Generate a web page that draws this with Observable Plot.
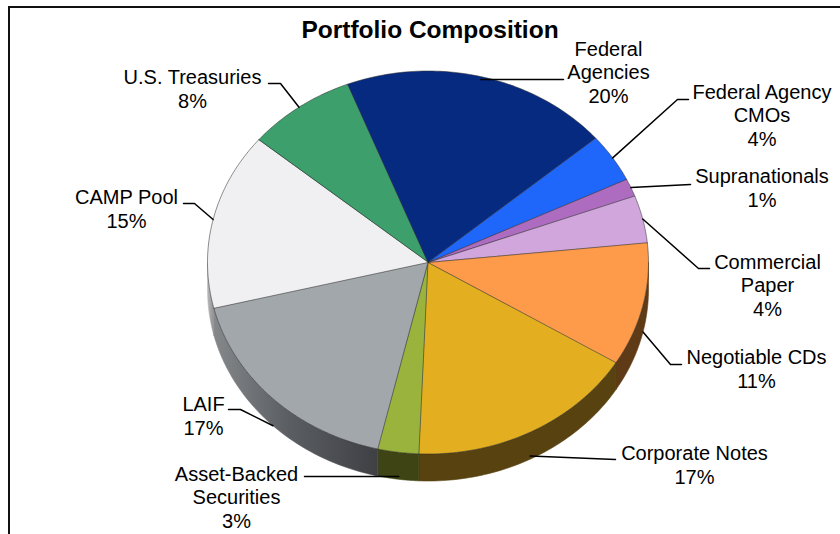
<!DOCTYPE html>
<html><head><meta charset="utf-8">
<script src="https://cdn.jsdelivr.net/npm/d3@7"></script>
<script src="https://cdn.jsdelivr.net/npm/@observablehq/plot@0.6"></script>
<style>html,body{margin:0;padding:0;background:#fff}svg{display:block}</style>
</head><body><div id="chart"></div>
<script>
const categories = ["U.S. Treasuries","Federal Agencies","Federal Agency CMOs","Supranationals","Commercial Paper","Negotiable CDs","Corporate Notes","Asset-Backed Securities","LAIF","CAMP Pool"];
const shares = [8.0,19.7,4.1,1.5,4.0,10.4,16.9,3.0,17.5,14.9];
const labelText = ["U.S. Treasuries\n8%","Federal\nAgencies\n20%","Federal Agency\nCMOs\n4%","Supranationals\n1%","Commercial\nPaper\n4%","Negotiable CDs\n11%","Corporate Notes\n17%","Asset-Backed\nSecurities\n3%","LAIF\n17%","CAMP Pool\n15%"];
const topColors = ["#3da06c","#062a80","#1f66fb","#ad6cc0","#d0a6dc","#fd9b4b","#e3ae20","#9ab33c","#a2a7ab","#f0f0f2"];
const sideColors = ["#1f5036","#031540","#0f337e","#573660","#68536e","#5f3a17","#574210","#3e4414","url(#sideLaif)","url(#sideCamp)"];
// layout: label centre, elbow and leader end in chart pixels
const labelX = [192,608,761.5,761.5,767,756,694,236,203,126];
const labelY = [88,71,114,187,284,368,464,496,415,208];
const elbowX = [280,null,677,null,698,670,null,null,240,194];
const elbowY = [83,null,99,null,268,364,null,null,409,203];
const endX = [268,563,688,690,709,681,615,304,228,183];
const endY = [83,79,99,184,268,364,459,476,409,203];
const anchorR = [1,0.985,1,1,1,1,0.985,0.985,1,1];

const W = 840, H = 534;
const cx = 427.5, cy = 262, rx = 220.5, ry = 191.5, depth = 27;
const start = -50.2 * Math.PI / 180;
const pie = d3.pie().sort(null).startAngle(start).endAngle(start + 2 * Math.PI)(shares);
const px = (t, r = 1) => cx + rx * r * Math.sin(t);
const py = (t, r = 1) => cy - ry * r * Math.cos(t);
const arc = (a, b) => d3.range(0, 61).map(i => a + (b - a) * i / 60);

const tops = [], sides = [], leaders = [];
pie.forEach((s, i) => {
  tops.push({k: i, x: cx, y: cy});
  arc(s.startAngle, s.endAngle).forEach(t => tops.push({k: i, x: px(t), y: py(t)}));
  // front half of the rim only
  const lo = Math.PI / 2, hi = 3 * Math.PI / 2;
  const a = Math.max(s.startAngle, lo), b = Math.min(s.endAngle, hi);
  if (b > a) {
    const ts = arc(a, b);
    ts.forEach(t => sides.push({k: i, x: px(t), y: py(t)}));
    ts.slice().reverse().forEach(t => sides.push({k: i, x: px(t), y: py(t) + depth}));
  }
  const m = (s.startAngle + s.endAngle) / 2;
  const front = Math.cos(m) < 0;
  const path = [{x: px(m, anchorR[i]), y: py(m, anchorR[i]) + (front ? depth : 0)}];
  if (elbowX[i] != null) path.push({x: elbowX[i], y: elbowY[i]});
  path.push({x: endX[i], y: endY[i]});
  path.forEach(p => leaders.push({k: i, ...p}));
});
const labels = categories.map((c, i) => ({c, t: labelText[i], x: labelX[i], y: labelY[i]}));
const gradients = () => {
  const ns = "http://www.w3.org/2000/svg";
  const defs = document.createElementNS(ns, "defs");
  const mk = (id, stops) => {
    const g = document.createElementNS(ns, "linearGradient");
    g.setAttribute("id", id);
    stops.forEach(([o, c]) => {
      const s = document.createElementNS(ns, "stop");
      s.setAttribute("offset", o); s.setAttribute("stop-color", c);
      g.appendChild(s);
    });
    defs.appendChild(g);
  };
  mk("sideLaif", [[0, "#85888b"], [0.45, "#5b5e62"], [1, "#3e4044"]]);
  mk("sideCamp", [[0, "#b8b8ba"], [1, "#8f8f92"]]);
  return defs;
};
const FONT = "'Liberation Sans', Arial, sans-serif";
const chart = Plot.plot({
  width: W, height: H,
  margin: 0,
  style: {fontFamily: FONT, background: "#fff", overflow: "visible"},
  x: {domain: [0, W], range: [0, W], axis: null},
  y: {domain: [0, H], range: [0, H], axis: null},
  marks: [
    gradients,
    // chart frame (top and left edges only)
    Plot.ruleY([6.5], {x1: 8, x2: W, stroke: "#111", strokeWidth: 2}),
    Plot.ruleX([8.5], {y1: 6, y2: H, stroke: "#111", strokeWidth: 2}),
    Plot.line(sides, {x: "x", y: "y", z: "k", curve: "linear-closed", fill: d => sideColors[d.k], stroke: d => sideColors[d.k], strokeWidth: 0.6}),
    Plot.line(tops, {x: "x", y: "y", z: "k", curve: "linear-closed", fill: d => topColors[d.k], stroke: "#2b2b2b", strokeWidth: 0.7, strokeOpacity: 0.75}),
    Plot.line(leaders, {x: "x", y: "y", z: "k", stroke: "#000", strokeWidth: 1.5}),
    Plot.text(labels, {x: "x", y: "y", text: "t", fontSize: 20, lineHeight: 1.175, fill: "#000", lineAnchor: "middle"}),
    Plot.text(["Portfolio Composition"], {x: () => 429.5, y: () => 30, text: d => d, fontSize: 24.5, fontWeight: "bold", fill: "#000"})
  ]
});
document.getElementById("chart").appendChild(chart);
</script></body></html>
